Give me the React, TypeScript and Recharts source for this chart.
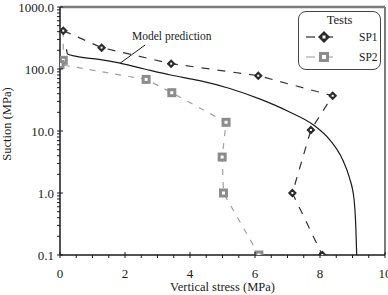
import React from 'react';
import { ComposedChart, Line, XAxis, YAxis, ReferenceLine, ReferenceDot, Label } from 'recharts';

// Test SP1 (vertical stress MPa, suction MPa)
const sp1Stress = [0.1, 1.28, 3.42, 6.1, 8.39, 7.72, 7.15, 8.07];
const sp1Suction = [415, 221, 122, 78, 37, 10.4, 1.0, 0.1];

// Test SP2 (first point sits under the SP1 diamond, no marker drawn)
const sp2Stress = [0.1, 0.1, 0.0, 2.65, 3.44, 5.11, 4.99, 5.03, 6.12];
const sp2Suction = [415, 138, 118, 68, 41.5, 13.8, 3.8, 1.0, 0.1];

// Model prediction curve
const modelStress = [0.2, 0.23, 0.5, 1.2, 1.85, 2.6, 3.4, 4.3, 5.2, 6.2, 7.0, 7.8, 8.3, 8.7, 8.9, 9.05, 9.1, 9.13];
const modelSuction = [208, 175, 160, 143, 124, 100, 80, 65, 49, 32, 21, 12.5, 7.2, 3.4, 1.8, 0.77, 0.3, 0.1];

const xMajor = [0, 2, 4, 6, 8, 10];
const yMajor = [0.1, 1, 10, 100, 1000];

// annotation: text anchor and leader line end points (data coords)
const noteText = 'Model prediction';
const noteAt = { x: 3.44, y: 340 };
const leader = [{ x: 2.62, y: 244 }, { x: 1.85, y: 124 }];

const xTicks = Array.from({ length: 21 }, (_, i) => i * 0.5);
const yTicks = [...[0.1, 1, 10, 100].flatMap(d => [1, 2, 3, 4, 5, 6, 7, 8, 9].map(m => d * m)), 1000];

const toPts = (xs: number[], ys: number[]) => xs.map((x, i) => ({ x, y: ys[i] }));
const sp1 = toPts(sp1Stress, sp1Suction);
const sp2 = toPts(sp2Stress, sp2Suction);
const model = toPts(modelStress, modelSuction);

const FONT = "'Liberation Serif', 'Times New Roman', Times, 'DejaVu Serif', serif";
const INK = '#1a1a1a';
const txt = { fontFamily: FONT };

function XTick({ x, y, payload }: any) {
  const v = payload.value;
  const major = xMajor.some(m => Math.abs(m - v) < 1e-6);
  return (
    <g>
      <line x1={x} x2={x} y1={major ? y - 3 : y} y2={y + 3} stroke={INK} strokeWidth={1} />
      {major && (
        <text x={x} y={y + 23} textAnchor="middle" fontSize={13} style={txt} fill={INK}>{v}</text>
      )}
    </g>
  );
}

function YTick({ x, y, payload }: any) {
  const v = payload.value;
  const major = yMajor.some(m => Math.abs(m - v) / m < 1e-6);
  return (
    <g>
      <line x1={x - 3} x2={major ? x + 3 : x} y1={y} y2={y} stroke={INK} strokeWidth={1} />
      {major && (
        <text x={x - 6} y={y + 4.5} textAnchor="end" fontSize={13} style={txt} fill={INK}>{v.toFixed(1)}</text>
      )}
    </g>
  );
}

function DiamondDot(p: any) {
  const { cx, cy } = p;
  if (cx == null || cy == null) return <g />;
  const s = 4.5;
  return (
    <g>
      <path d={`M${cx},${cy - s}L${cx + s},${cy}L${cx},${cy + s}L${cx - s},${cy}Z`} fill="#2a2a2a" />
      <rect x={cx - 1} y={cy - 1} width={2} height={2} fill="#fff" />
    </g>
  );
}

function SquareDot(p: any) {
  const { cx, cy, index } = p;
  if (cx == null || cy == null || index === 0) return <g />;
  return (
    <g>
      <rect x={cx - 4.5} y={cy - 4.5} width={9} height={9} fill="#8c8c8c" />
      <rect x={cx - 1.5} y={cy - 1.5} width={3} height={3} fill="#fff" />
    </g>
  );
}

function LegendBox() {
  return (
    <div style={{
      position: 'absolute', left: 298, top: 11, width: 83, height: 59,
      border: '1.2px solid #444', borderRadius: 8, boxSizing: 'border-box',
      fontFamily: FONT, color: INK, background: '#fff',
    }}>
      <div style={{ position: 'absolute', left: 0, right: 0, top: 1, textAlign: 'center', fontSize: 12.5 }}>Tests</div>
      <svg width={40} height={50} style={{ position: 'absolute', left: 4, top: 13 }}>
        <line x1={3} x2={12} y1={12} y2={12} stroke="#2a2a2a" strokeWidth={1.2} />
        <line x1={23} x2={30} y1={12} y2={12} stroke="#2a2a2a" strokeWidth={1.2} />
        <path d="M21,6L27,12L21,18L15,12Z" fill="#2a2a2a" />
        <rect x={19.5} y={10.5} width={3} height={3} fill="#fff" />
        <line x1={3} x2={12} y1={32} y2={32} stroke="#aaa" strokeWidth={1.2} />
        <line x1={23} x2={30} y1={32} y2={32} stroke="#aaa" strokeWidth={1.2} />
        <rect x={16} y={27} width={10} height={10} fill="#8c8c8c" />
        <rect x={19} y={30} width={4} height={4} fill="#fff" />
      </svg>
      <div style={{ position: 'absolute', left: 60, top: 19, fontSize: 11.5 }}>SP1</div>
      <div style={{ position: 'absolute', left: 60, top: 39, fontSize: 11.5 }}>SP2</div>
    </div>
  );
}

export default function App() {
  return (
    <div style={{ position: 'absolute', left: 0, top: 0, width: 388, height: 295, overflow: 'hidden', background: '#fff', fontFamily: FONT }}>
      <ComposedChart width={400} height={295} margin={{ top: 7, right: 15, bottom: 0, left: 10 }} style={txt}>
        <XAxis
          type="number"
          dataKey="x"
          domain={[0, 10]}
          ticks={xTicks}
          interval={0}
          allowDataOverflow
          height={40}
          tickSize={0}
          tickMargin={0}
          tickLine={false}
          tick={<XTick />}
          axisLine={{ stroke: INK, strokeWidth: 1.5 }}
        >
          <Label
            content={({ viewBox }: any) => (
              <text x={viewBox.x + viewBox.width / 2} y={viewBox.y + 36} textAnchor="middle"
                fontSize={12.5} style={txt} fill={INK}>Vertical stress (MPa)</text>
            )}
          />
        </XAxis>
        <YAxis
          type="number"
          dataKey="y"
          scale="log"
          domain={[0.1, 1000]}
          ticks={yTicks}
          interval={0}
          allowDataOverflow
          width={50}
          tickSize={0}
          tickMargin={0}
          tickLine={false}
          tick={<YTick />}
          axisLine={{ stroke: INK, strokeWidth: 1.5 }}
        >
          <Label
            content={({ viewBox }: any) => {
              const cx = 11;
              const cy = viewBox.y + viewBox.height / 2 - 7;
              return (
                <text x={cx} y={cy} textAnchor="middle" transform={`rotate(-90 ${cx} ${cy})`}
                  fontSize={12.5} style={txt} fill={INK}>Suction (MPa)</text>
              );
            }}
          />
        </YAxis>
        <ReferenceLine y={1000} stroke="#7a7a7a" strokeWidth={2.5} ifOverflow="extendDomain" />
        <ReferenceLine x={10} stroke="#7a7a7a" strokeWidth={2} ifOverflow="extendDomain" />
        <ReferenceLine segment={leader} stroke={INK} strokeWidth={1} />
        <ReferenceDot x={noteAt.x} y={noteAt.y} r={0} fill="none" stroke="none">
          <Label value={noteText} position="center" fontSize={11.5} style={txt} fill={INK} />
        </ReferenceDot>
        <Line data={model} dataKey="y" type="monotone" stroke={INK} strokeWidth={1.2}
          dot={false} activeDot={false} isAnimationActive={false} />
        <Line data={sp2} dataKey="y" type="linear" stroke="#a0a0a0" strokeWidth={1.2} strokeDasharray="6 7"
          dot={<SquareDot />} activeDot={false} isAnimationActive={false} />
        <Line data={sp1} dataKey="y" type="linear" stroke="#333" strokeWidth={1.2} strokeDasharray="8 8"
          dot={<DiamondDot />} activeDot={false} isAnimationActive={false} />
      </ComposedChart>
      <LegendBox />
    </div>
  );
}
